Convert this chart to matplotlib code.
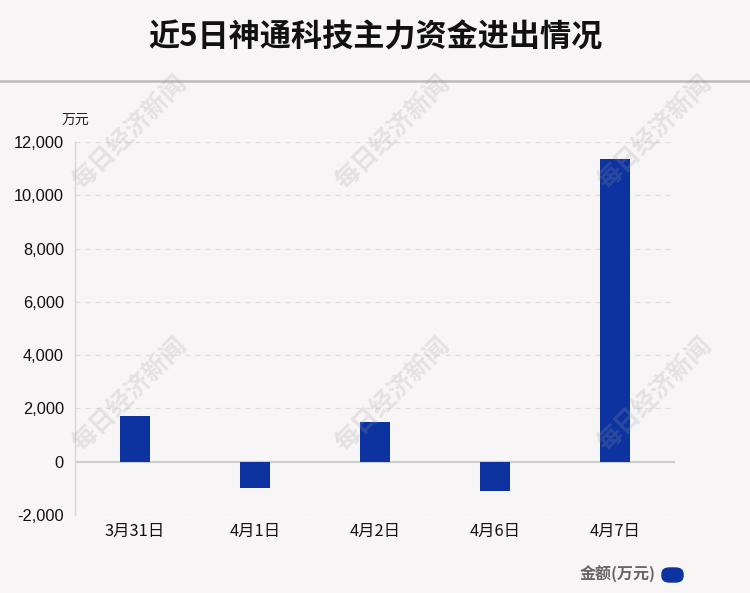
import matplotlib
matplotlib.use("Agg")
import matplotlib.pyplot as plt
from matplotlib.patches import FancyBboxPatch
from matplotlib.lines import Line2D

plt.rcParams['font.family'] = ['Liberation Sans', 'Noto Sans CJK SC', 'DejaVu Sans']

categories = ['3月31日', '4月1日', '4月2日', '4月6日', '4月7日']
values = [1725, -975, 1500, -1090, 11360]
yticks = [-2000, 0, 2000, 4000, 6000, 8000, 10000, 12000]
title = '近5日神通科技主力资金进出情况'
unit = '万元'
legend_label = '金额(万元)'

bg = '#f8f5f6'
bar_color = '#0d33a0'

fig = plt.figure(figsize=(7.5, 5.93), dpi=100, facecolor=bg)
ax = fig.add_axes([0.1, 1 - 515/593, 0.8, (515-142)/593])
ax.set_facecolor(bg)

x = list(range(len(categories)))
ax.bar(x, values, width=0.25, color=bar_color, zorder=3)
ax.set_xlim(-0.5, len(categories) - 0.5)
ax.set_ylim(-2000, 12000)
ax.set_yticks(yticks)
ax.set_yticklabels([f'{v:,}' for v in yticks], fontsize=11.8, color='#111111')
ax.set_xticks(x)
ax.set_xticklabels(categories, fontsize=11.8, color='#111111', family=['Noto Sans CJK SC', 'DejaVu Sans'])
ax.tick_params(length=0, pad=8)
ax.tick_params(axis='x', pad=6)

for v in yticks:
    if v != 0:
        ax.axhline(v, color='#dddddd', lw=0.9, ls=(0, (4, 4)), zorder=1)
ax.axhline(0, color='#cccccc', lw=1.5, zorder=2)
for s in ['top', 'right', 'bottom']:
    ax.spines[s].set_visible(False)
ax.spines['left'].set_color('#d6d6d6')
ax.spines['left'].set_linewidth(1)

fig.text(0.5, 1 - 38/593, title, ha='center', va='center', fontsize=22.4, fontweight='bold',
         family=['Noto Sans CJK SC', 'DejaVu Sans'], color='#111111')
fig.add_artist(Line2D([0, 1], [1 - 81/593, 1 - 81/593], color='#bbbbbb', lw=1.8))

fig.text(75/750, 1 - 120/593, unit, ha='center', va='center', fontsize=10,
         family=['Noto Sans CJK SC', 'DejaVu Sans'], color='#222222')

# watermarks
for (wx, wy) in [(130, 133), (393, 133), (655, 133), (130, 395), (393, 395), (655, 395)]:
    fig.text(wx/750, 1 - wy/593, '每日经济新闻', ha='center', va='center', fontsize=18,
             rotation=45, color='#9a9a9a', alpha=0.22, fontweight='bold',
             family=['Noto Sans CJK SC', 'DejaVu Sans'], zorder=5)

fig.text(656/750, 1 - 574/593, legend_label, ha='right', va='center', fontsize=11.5,
         fontweight='bold', color='#666666', family=['Noto Sans CJK SC', 'DejaVu Sans'])
fig.add_artist(FancyBboxPatch((662/750, 1 - 582/593), 21/750, 14/593,
                              boxstyle='round,pad=0,rounding_size=0.01',
                              transform=fig.transFigure, color=bar_color))

fig.savefig('out.png', dpi=100, facecolor=bg)
